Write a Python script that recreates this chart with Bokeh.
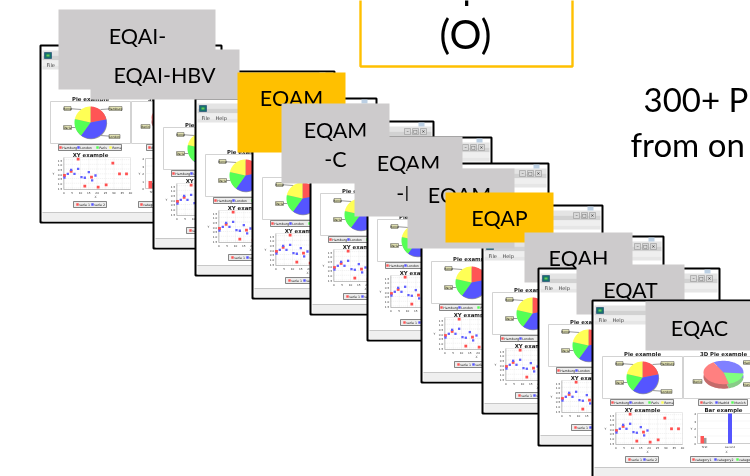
import numpy as np
from bokeh.plotting import figure
from bokeh.models import Range1d
from bokeh.core.properties import value
from bokeh.embed import file_html
from bokeh.resources import INLINE

# ---- data ----
win_left = [40, 153, 195, 252, 310, 367, 421, 482, 538, 592]
win_top = [45, 71, 98, 121, 137, 163, 205, 236, 268, 300]

pie_names = ["Hamburg", "London", "Paris", "Rome"]
pie_values = [22, 38, 18.5, 21.5]
pie3d_names = ["Madrid", "Munich", "Berlin"]
pie3d_values = [34.7, 19.4, 45.9]

xy_red_x = [8.6, 29.4, 4.4, 0.4, 16.6, 33.4, 37.6, 12.6, 25.4, 20.6]
xy_red_y = [1.55, 1.13, 0.25, -0.18, -0.35, 0.0, 0.0, -1.3, -1.17, -1.41]
xy_blue_x = [4.4, 2.4, 8.6, 6.4, 15.0, 10.6, 12.6, 19.0, 17.0, 0.4]
xy_blue_y = [0.42, 0.0, 0.53, 0.0, 0.18, -0.35, -0.42, -0.18, -0.7, -0.4]
xy_xticks = [0, 5, 10, 15, 20, 25, 30, 35, 40]
xy_yticks = [-1.5, -1.0, -0.5, 0.0, 0.5, 1.0, 1.5]

bar_cats = ["first", "second", "third"]
bar_red = [1.0, 0.0, 0.0]
bar_grey = [0.75, 0.0, 0.0]
bar_blue = [0.0, 4.0, 0.0]

boxes_early = [
    (58, 9, 215, 89, "#cdcbcc", ["EQAI-"], [(137, 35)]),
    (90, 49, 239, 99, "#cdcbcc", ["EQAI-HBV"], [(164, 74)]),
    (237, 72, 345, 152, "#ffc000", ["EQAM"], [(291, 97)]),
    (281, 103, 389, 183, "#cdcbcc", ["EQAM", "-C"], [(335, 129), (335, 158)]),
    (354, 136, 462, 216, "#cdcbcc", ["EQAM", "-H"], [(408, 162), (408, 192)]),
    (407, 168, 514, 248, "#cdcbcc", ["EQAM"], [(459, 194)]),
    (445, 192, 553, 242, "#ffc000", ["EQAP"], [(499, 217)]),
    (524, 232, 632, 282, "#cdcbcc", ["EQAH"], [(578, 257)]),
]
box_eqat = (576, 264, 684, 314, "#cdcbcc", ["EQAT"], [(630, 289)])
box_eqac = (645, 301, 750, 350, "#cdcbcc", ["EQAC"], [(699, 327)])

RED, BLUE, GREEN, YELLOW = "#ff5555", "#5555ff", "#55ff55", "#ffff55"

p = figure(width=750, height=476, output_backend="svg", toolbar_location=None,
           x_range=Range1d(0, 750), y_range=Range1d(476, 0),
           x_axis_location=None, y_axis_location=None, min_border=0,
           outline_line_color=None, background_fill_color="white",
           styles={"position": "fixed", "left": "0px", "top": "0px"})
p.xgrid.visible = False
p.ygrid.visible = False


def rect(x0, y0, x1, y1, fill="white", line=None, lw=1.0):
    p.quad(left=[x0], right=[x1], top=[y0], bottom=[y1], fill_color=fill,
           line_color=line, line_width=lw)


def label(x, y, s, size=4.0, color="#222222", font="DejaVu Sans", align="left",
          style="normal"):
    p.text(x=[x], y=[y], text=[s], text_font=value(font), text_font_size=f"{size}px",
           text_color=color, text_align=align, text_baseline="middle",
           text_font_style=style)


def pie(cx, cy, r, vals, colors, ry=None, start=0.0):
    ry = r if ry is None else ry
    total = sum(vals)
    a = np.radians(start)
    for v, c in zip(vals, colors):
        b = a + 2 * np.pi * v / total
        t = np.linspace(a, b, 30)
        xs = [cx] + list(cx + r * np.sin(t))
        ys = [cy] + list(cy - ry * np.cos(t))
        p.patch(xs, ys, fill_color=c, line_color=None)
        a = b


def tag(x, y, s, w=13):
    rect(x - w / 2, y - 1.9, x + w / 2, y + 1.9, "#e9e9b8", "#444444", 0.5)
    label(x, y, s, 3.0, "#111111", align="center")


def legend(x0, x1, y0, y1, dots, names, colors):
    rect(x0, y0, x1, y1, "#ececec", "#555555", 0.7)
    ym = (y0 + y1) / 2
    for dx, n, c in zip(dots, names, colors):
        p.scatter([dx], [ym], marker="square", size=2.4, fill_color=c, line_color=None)
        label(dx + 1.8, ym, n, 3.2, "#222222")


def draw_window(ox, oy):
    # frame
    rect(ox, oy, ox + 181, oy + 177, "white", "black", 2)
    rect(ox + 2, oy + 5, ox + 179, oy + 10, "#e4e4e4")
    rect(ox + 2, oy + 10, ox + 179, oy + 15, "#d2d2d2")
    rect(ox + 2, oy + 15, ox + 179, oy + 20, "#efefef")
    rect(ox + 2, oy + 20, ox + 179, oy + 24, "#e6e6e6")
    rect(ox + 166, oy + 1, ox + 172, oy + 5, "#bcd0e4")
    rect(ox + 4, oy + 7, ox + 11, oy + 13, "#15736a", "#1a3f70", 0.6)
    rect(ox + 6, oy + 9, ox + 9, oy + 11, "#66cc55")
    for bx, sym in zip([155, 163, 171], ["–", "□", "×"]):
        rect(ox + bx - 3, oy + 7, ox + bx + 3, oy + 13, "#d8d8d8", "#888888", 0.5)
        label(ox + bx, oy + 10, sym, 4.5, "#222222", align="center")
    label(ox + 6, oy + 19, "File", 5.0, "#444444")
    label(ox + 20, oy + 19, "Help", 5.0, "#444444")
    rect(ox + 2, oy + 167, ox + 179, oy + 176, "#efefef")
    p.segment([ox + 2], [oy + 167], [ox + 179], [oy + 167], line_color="#bbbbbb", line_width=0.8)

    # pie panel
    label(ox + 50, oy + 53, "Pie example", 5.4, "#222222", align="center", style="bold")
    rect(ox + 10, oy + 56, ox + 90, oy + 98, "white", "#c8c8c8", 0.8)
    cx, cy = ox + 50, oy + 77
    for (lx, ly, ex, ey) in [(ox + 75, oy + 63, cx + 10, cy - 13), (ox + 74, oy + 91, cx + 10, cy + 13),
                             (ox + 27, oy + 82, cx - 15, cy + 5), (ox + 27, oy + 63, cx - 9, cy - 13)]:
        p.segment([lx], [ly], [ex], [ey], line_color="#333333", line_width=0.5)
    p.circle([cx + 0.6], [cy + 0.7], radius=16, fill_color="#999999", line_color=None)
    pie(cx, cy, 16, pie_values, [RED, BLUE, GREEN, YELLOW])
    tag(ox + 75, oy + 63, pie_names[0], 13)
    tag(ox + 74, oy + 91, pie_names[1], 11)
    tag(ox + 27, oy + 82, pie_names[2], 8)
    tag(ox + 27, oy + 63, pie_names[3], 7)
    legend(ox + 18, ox + 81, oy + 99, oy + 105, [ox + 20, ox + 38, ox + 57, ox + 70],
           pie_names, [RED, BLUE, GREEN, YELLOW])

    # 3D pie panel
    label(ox + 131, oy + 53, "3D Pie example", 5.4, "#222222", align="center", style="bold")
    rect(ox + 91, oy + 56, ox + 171, oy + 98, "white", "#c8c8c8", 0.8)
    c3x, c3y = ox + 131, oy + 72
    pie(c3x, c3y + 4.5, 20, pie3d_values, ["#8a8ad0", "#88cc88", "#c46a6a"], ry=11.7, start=-30)
    pie(c3x, c3y, 20, pie3d_values, ["#8080ff", "#80ff80", "#ff8080"], ry=11.7, start=-30)
    tag(ox + 105, oy + 81, pie3d_names[2], 9)
    tag(ox + 156, oy + 62, pie3d_names[0], 10)
    tag(ox + 156, oy + 84, pie3d_names[1], 10)
    legend(ox + 106, ox + 155, oy + 99, oy + 105, [ox + 109, ox + 124, ox + 140],
           [pie3d_names[2], pie3d_names[0], pie3d_names[1]],
           [RED, BLUE, GREEN])

    # XY plot
    label(ox + 50, oy + 109, "XY example", 5.4, "#222222", align="center", style="bold")
    x0, x1, y0, y1 = ox + 23.3, ox + 90, oy + 144, oy + 112
    fx = lambda v: x0 + (np.asarray(v) - xy_xticks[0]) * (x1 - x0) / (xy_xticks[-1] - xy_xticks[0])
    fy = lambda v: oy + 128.3 - np.asarray(v) * 9.45
    rect(x0, y1, x1, y0, "white", "#dddddd", 0.6)
    for t in xy_xticks:
        p.segment([fx(t)], [y0], [fx(t)], [y1], line_color="#d8d8d8", line_width=0.4, line_dash="1 1")
        label(fx(t), y0 + 3, str(t), 2.8, "#333333", align="center")
    for t in xy_yticks:
        p.segment([x0], [fy(t)], [x1], [fy(t)], line_color="#d8d8d8", line_width=0.4, line_dash="1 1")
        label(x0 - 1.5, fy(t), str(t), 2.8, "#333333", align="right")
    p.segment([x0, x0], [y0, y0], [x1, x0], [y0, y1], line_color="#999999", line_width=0.5)
    label(ox + 13, oy + 128, "Y", 3.0, "#333333", align="center")
    label(ox + 55, oy + 151, "X", 3.0, "#333333", align="center")
    p.scatter(fx(xy_red_x), fy(xy_red_y), marker="square", size=2.8, fill_color="#ff5050", line_color=None)
    p.scatter(fx(xy_blue_x), fy(xy_blue_y), marker="square", size=2.3, fill_color="#6060ff", line_color=None)
    legend(ox + 33, ox + 66, oy + 156, oy + 162, [ox + 37, ox + 52], ["serie 1", "serie 2"], [RED, BLUE])

    # bar plot
    label(ox + 131, oy + 109, "Bar example", 5.4, "#222222", align="center", style="bold")
    bx0, bx1, by0, by1 = ox + 105, ox + 176, oy + 143, oy + 113
    gy = lambda v: by0 - np.asarray(v) * (by0 - by1) / 4
    rect(bx0, by1, bx1, by0, "white", "#999999", 0.5)
    for t in [1, 2, 3, 4]:
        p.segment([bx0], [gy(t)], [bx1], [gy(t)], line_color="#d8d8d8", line_width=0.4, line_dash="1 1")
        label(bx0 - 1.5, gy(t), str(t), 2.8, "#333333", align="right")
    label(bx0 - 1.5, by0, "0", 2.8, "#333333", align="right")
    label(ox + 99, oy + 128, "Y", 3.0, "#333333", align="center")
    label(ox + 134, oy + 151, "X", 3.0, "#333333", align="center")
    cat_x = [ox + 112, ox + 137.5, ox + 162]
    for cx_b, n, r, g, b in zip(cat_x, bar_cats, bar_red, bar_grey, bar_blue):
        label(cx_b, by0 + 3, n, 2.8, "#333333", align="center")
        if r:
            rect(cx_b - 4, gy(r), cx_b - 0.5, by0, "#ff5555")
        if g:
            rect(cx_b - 0.5, gy(g), cx_b + 2, by0, "#9a9a9a")
        if b:
            rect(cx_b - 2, gy(b), cx_b + 2, by0, "#5555ff")
    legend(ox + 98, ox + 166, oy + 156, oy + 162, [ox + 101, ox + 123, ox + 145],
           ["category1", "category2", "category3"], [RED, BLUE, GREEN])


def draw_box(b):
    x0, y0, x1, y1, c, texts, pos = b
    rect(x0, y0, x1, y1, c)
    for s, (x, y) in zip(texts, pos):
        label(x, y, s, 21.5, "black", "Lato", "center")


# top-centre box and right-hand text
rect(360, -5, 572, 66, "white", "#ffc000", 2.4)
label(465, 33, "(O)", 40, "black", "Lato", "center")
label(472, -15, "p", 36, "black", "Lato", "center")
label(643, 98, "300+ P", 33, "black", "Lato")
label(630, 143, "from on", 33, "black", "Lato")

for ox, oy in list(zip(win_left, win_top))[:8]:
    draw_window(ox, oy)
for b in boxes_early:
    draw_box(b)
draw_window(win_left[8], win_top[8])
draw_box(box_eqat)
draw_window(win_left[9], win_top[9])
draw_box(box_eqac)

open("out.html", "w").write(file_html(p, INLINE))
